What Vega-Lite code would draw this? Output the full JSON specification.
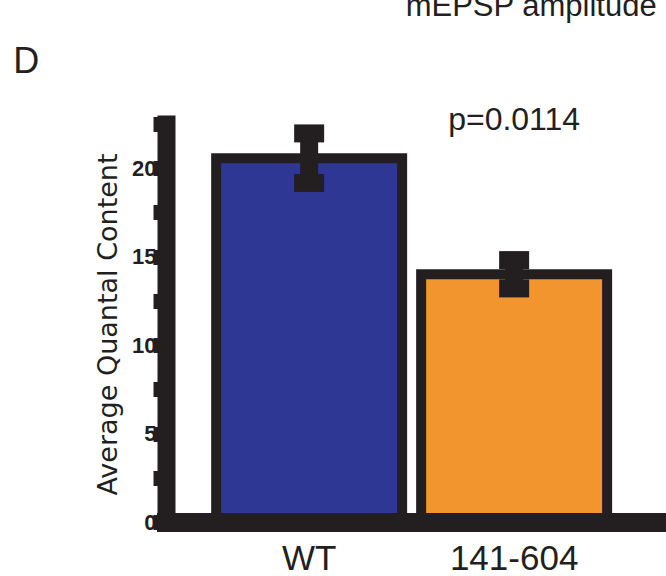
{
  "$schema": "https://vega.github.io/schema/vega-lite/v6.json",
  "autosize": "none",
  "width": 500,
  "height": 407,
  "padding": {"left": 166, "top": 115, "right": 0, "bottom": 54},
  "background": "white",
  "config": {
    "view": {"stroke": null},
    "axis": {"grid": false}
  },
  "data": {
    "values": [
      {"genotype": "WT", "mean": 20.56, "lo": 19.16, "hi": 21.96},
      {"genotype": "141-604", "mean": 14.0, "lo": 13.2, "hi": 14.8}
    ]
  },
  "layer": [
    {
      "mark": {"type": "bar", "stroke": "#231f20", "strokeWidth": 10},
      "encoding": {
        "x": {
          "field": "genotype",
          "type": "nominal",
          "sort": ["WT", "141-604"],
          "scale": {"domain": ["WT", "141-604"], "paddingInner": 0.0927, "paddingOuter": 0.266, "align": 0.46},
          "axis": {
            "title": null,
            "zindex": 1,
            "domainColor": "#231f20",
            "domainWidth": 19,
            "domainCap": "square",
            "ticks": false,
            "tickSize": 0,
            "labelAngle": 0,
            "labelFont": "Liberation Sans",
            "labelFontSize": 35,
            "labelColor": "#231f20",
            "labelBaseline": "top",
            "labelPadding": 19,
            "labelDx": -4
          }
        },
        "y": {
          "field": "mean",
          "type": "quantitative",
          "title": "Average Quantal Content",
          "scale": {"domain": [0, 23], "nice": false, "zero": true},
          "axis": {
            "values": [0, 2.5, 5, 7.5, 10, 12.5, 15, 17.5, 20, 22.5],
            "labelExpr": "datum.value % 5 === 0 ? datum.label : ''",
            "labelOverlap": false,
            "labelFlush": false,
            "domainColor": "#231f20",
            "domainWidth": 18,
            "tickColor": "#231f20",
            "tickSize": 13,
            "tickWidth": 15,
            "labelFont": "Liberation Sans",
            "labelFontWeight": "bold",
            "labelFontSize": 22,
            "labelColor": "#231f20",
            "labelPadding": -3,
            "titleFont": "DejaVu Sans",
            "titleFontWeight": "normal",
            "titleFontSize": 27,
            "titleColor": "#231f20",
            "titleAngle": 270,
            "titleBaseline": "alphabetic",
            "titleAlign": "center",
            "titleX": -50,
            "titleY": 209
          }
        },
        "fill": {
          "field": "genotype",
          "type": "nominal",
          "scale": {"domain": ["WT", "141-604"], "range": ["#2e3894", "#f3952e"]},
          "legend": null
        }
      }
    },
    {
      "mark": {"type": "rule", "color": "#231f20", "strokeWidth": 18},
      "encoding": {
        "x": {"field": "genotype", "type": "nominal", "sort": ["WT", "141-604"]},
        "y": {"field": "lo", "type": "quantitative", "title": "Average Quantal Content"},
        "y2": {"field": "hi"}
      }
    },
    {
      "mark": {"type": "tick", "color": "#231f20", "size": 30, "thickness": 18, "opacity": 1},
      "encoding": {
        "x": {"field": "genotype", "type": "nominal", "sort": ["WT", "141-604"]},
        "y": {"field": "hi", "type": "quantitative", "title": "Average Quantal Content"}
      }
    },
    {
      "mark": {"type": "tick", "color": "#231f20", "size": 30, "thickness": 18, "opacity": 1},
      "encoding": {
        "x": {"field": "genotype", "type": "nominal", "sort": ["WT", "141-604"]},
        "y": {"field": "lo", "type": "quantitative", "title": "Average Quantal Content"}
      }
    },
    {
      "data": {"values": [{"label": "p=0.0114"}]},
      "mark": {"type": "text", "font": "Liberation Sans", "fontSize": 32, "color": "#231f20", "align": "center", "baseline": "alphabetic"},
      "encoding": {
        "x": {"datum": "141-604", "type": "nominal"},
        "y": {"datum": 22.15, "type": "quantitative", "title": "Average Quantal Content"},
        "text": {"field": "label"}
      }
    },
    {
      "data": {"values": [{"label": "mEPSP amplitude"}]},
      "mark": {"type": "text", "font": "Liberation Sans", "fontSize": 31, "color": "#231f20", "align": "center", "baseline": "alphabetic", "dx": 17},
      "encoding": {
        "x": {"datum": "141-604", "type": "nominal"},
        "y": {"datum": 28.6, "type": "quantitative", "title": "Average Quantal Content"},
        "text": {"field": "label"}
      }
    },
    {
      "data": {"values": [{"label": "D"}]},
      "mark": {"type": "text", "font": "Liberation Sans", "fontSize": 36, "color": "#231f20", "align": "left", "baseline": "alphabetic", "dx": -296},
      "encoding": {
        "x": {"datum": "WT", "type": "nominal"},
        "y": {"datum": 25.37, "type": "quantitative", "title": "Average Quantal Content"},
        "text": {"field": "label"}
      }
    }
  ]
}
